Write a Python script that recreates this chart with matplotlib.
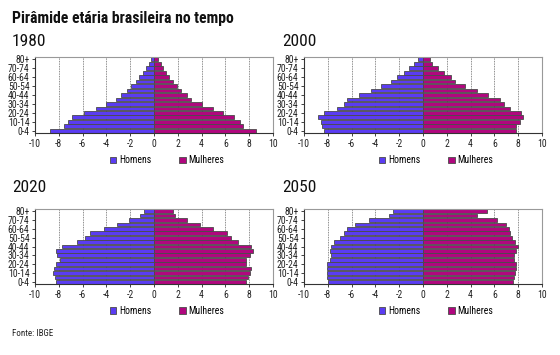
import numpy as np
import matplotlib
matplotlib.use("Agg")
import matplotlib.pyplot as plt

plt.rcParams['font.family'] = ['Roboto Condensed', 'Roboto', 'DejaVu Sans']

# faixas etarias, de baixo para cima
ages = ['0-4', '5-9', '10-14', '15-19', '20-24', '25-29', '30-34', '35-39',
        '40-44', '45-49', '50-54', '55-59', '60-64', '65-69', '70-74', '75-79', '80+']

# percentuais da populacao (homens / mulheres)
men_1980 = [8.7, 7.6, 7.2, 6.9, 5.85, 4.9, 4.0, 3.2, 2.8, 2.3, 1.9, 1.55, 1.25, 0.95, 0.7, 0.45, 0.25]
women_1980 = [8.55, 7.5, 7.2, 6.75, 5.8, 4.95, 4.05, 3.15, 2.8, 2.3, 1.95, 1.6, 1.3, 1.05, 0.75, 0.55, 0.35]

men_2000 = [8.35, 8.5, 8.6, 8.8, 8.35, 7.2, 6.65, 6.4, 5.35, 4.4, 3.5, 2.65, 2.2, 1.6, 1.2, 0.75, 0.45]
women_2000 = [7.8, 7.85, 8.15, 8.4, 8.2, 7.3, 6.8, 6.5, 5.5, 4.5, 3.55, 2.7, 2.35, 1.75, 1.3, 0.75, 0.55]

men_2020 = [8.2, 8.35, 8.5, 8.4, 8.2, 7.9, 8.15, 8.2, 7.7, 6.45, 5.8, 5.35, 4.2, 3.1, 2.1, 1.2, 0.85]
women_2020 = [7.75, 7.9, 8.05, 8.15, 7.75, 7.75, 8.05, 8.35, 8.15, 7.1, 6.5, 6.1, 4.95, 3.9, 2.8, 1.75, 1.6]

men_2050 = [8.0, 8.05, 8.05, 8.1, 8.1, 7.85, 7.75, 7.8, 7.75, 7.5, 7.0, 6.65, 6.35, 5.7, 4.5, 2.85, 2.5]
women_2050 = [7.6, 7.65, 7.7, 7.8, 7.8, 7.65, 7.65, 7.8, 7.95, 7.7, 7.45, 7.3, 7.2, 6.95, 6.2, 4.5, 5.35]

years = ['1980', '2000', '2020', '2050']
men = [men_1980, men_2000, men_2020, men_2050]
women = [women_1980, women_2000, women_2020, women_2050]

xticks = [-10, -8, -6, -4, -2, 0, 2, 4, 6, 8, 10]

blue = '#5a3cf2'
magenta = '#b0077e'

W, H = 560, 355
fig = plt.figure(figsize=(5.6, 3.55), dpi=100)

# caixas dos graficos em pixels (esq, dir, topo, base)
boxes = [(35, 273, 57, 133), (304, 542, 57, 133),
         (35, 273, 209, 284), (304, 542, 209, 284)]
title_pos = [(12, 42), (282, 42), (12, 188), (282, 188)]

fig.text(12 / W, 1 - 18 / H, 'Pirâmide etária brasileira no tempo',
         fontsize=11.3, fontweight='bold', va='center', ha='left', color='#111111')

y = np.arange(len(ages))
for i in range(4):
    l, r, t, b = boxes[i]
    ax = fig.add_axes([l / W, 1 - b / H, (r - l) / W, (b - t) / H])
    hm = ax.barh(y, -np.array(men[i]), height=0.85, color=blue,
                 edgecolor='#4a4a4a', linewidth=0.6, label='Homens')
    hw = ax.barh(y, women[i], height=0.85, color=magenta,
                 edgecolor='#4a4a4a', linewidth=0.6, label='Mulheres')
    ax.set_xlim(-10, 10)
    ax.set_ylim(-0.5, len(ages) - 0.5)
    ax.set_xticks(xticks)
    ax.set_xticklabels([str(v) for v in xticks], fontsize=7)
    ax.set_yticks(y[::2])
    ax.set_yticklabels(ages[::2], fontsize=7)
    ax.tick_params(length=2, width=0.6, pad=2, colors='#222222')
    ax.grid(axis='x', linestyle=(0, (1, 1)), color='#666666', linewidth=0.6)
    ax.set_axisbelow(True)
    for s in ['left', 'bottom']:
        ax.spines[s].set_color('#333333')
        ax.spines[s].set_linewidth(0.8)
    for s in ['top', 'right']:
        ax.spines[s].set_color('#999999')
        ax.spines[s].set_linewidth(0.8)
    ax.legend(handles=[hm, hw], loc='center', bbox_to_anchor=(0.555, -0.36),
              ncol=2, frameon=False, fontsize=7, handlelength=0.7,
              handleheight=0.7, handletextpad=0.3, columnspacing=2.8)

    tx, ty = title_pos[i]
    fig.text(tx / W, 1 - ty / H, years[i], fontsize=12.5, va='center', ha='left',
             color='#111111')

fig.text(12 / W, 1 - 333 / H, 'Fonte: IBGE', fontsize=6.5, va='center', ha='left',
         color='#222222')

fig.savefig('out.png', dpi=100, facecolor='white')
